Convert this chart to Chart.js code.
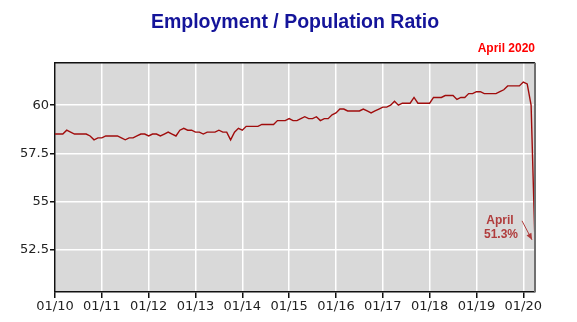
<!DOCTYPE html>
<html>
<head>
<meta charset="utf-8">
<script src="https://cdn.jsdelivr.net/npm/chart.js@4"></script>
<style>
  body { margin: 0; background: #fff; }
  #wrap { width: 577px; height: 322px; }
</style>
</head>
<body>
<div id="wrap"><canvas id="chart"></canvas></div>
<script>
"use strict"
// Employment / population ratio, monthly, Jan 2010 - Apr 2020
const startYear = 2010;
const ratio2010 = [58.5, 58.5, 58.5, 58.7, 58.6, 58.5, 58.5, 58.5, 58.5, 58.4, 58.2, 58.3];
const ratio2011 = [58.3, 58.4, 58.4, 58.4, 58.4, 58.3, 58.2, 58.3, 58.3, 58.4, 58.5, 58.5];
const ratio2012 = [58.4, 58.5, 58.5, 58.4, 58.5, 58.6, 58.5, 58.4, 58.7, 58.8, 58.7, 58.7];
const ratio2013 = [58.6, 58.6, 58.5, 58.6, 58.6, 58.6, 58.7, 58.6, 58.6, 58.2, 58.6, 58.8];
const ratio2014 = [58.7, 58.9, 58.9, 58.9, 58.9, 59.0, 59.0, 59.0, 59.0, 59.2, 59.2, 59.2];
const ratio2015 = [59.3, 59.2, 59.2, 59.3, 59.4, 59.3, 59.3, 59.4, 59.2, 59.3, 59.3, 59.5];
const ratio2016 = [59.6, 59.8, 59.8, 59.7, 59.7, 59.7, 59.7, 59.8, 59.7, 59.6, 59.7, 59.8];
const ratio2017 = [59.9, 59.9, 60.0, 60.2, 60.0, 60.1, 60.1, 60.1, 60.4, 60.1, 60.1, 60.1];
const ratio2018 = [60.1, 60.4, 60.4, 60.4, 60.5, 60.5, 60.5, 60.3, 60.4, 60.4, 60.6, 60.6];
const ratio2019 = [60.7, 60.7, 60.6, 60.6, 60.6, 60.6, 60.7, 60.8, 61.0, 61.0, 61.0, 61.0];
const ratio2020 = [61.2, 61.1, 60.0, 52.8];

const yTicks = [52.5, 55, 57.5, 60];
const annotationLines = ["April", "51.3%"];

const allValues = [].concat(ratio2010, ratio2011, ratio2012, ratio2013, ratio2014,
  ratio2015, ratio2016, ratio2017, ratio2018, ratio2019, ratio2020);
// x = months since Jan 2010
const points = allValues.map((v, i) => ({ x: i, y: v }));

// gray plot background + frame + April annotation
const plotDecor = {
  id: 'plotDecor',
  beforeDraw(chart) {
    const { ctx, chartArea: a } = chart;
    ctx.save();
    ctx.fillStyle = '#d9d9d9';
    ctx.fillRect(a.left, a.top, a.right - a.left, a.bottom - a.top);
    ctx.restore();
  },
  afterDraw(chart) {
    const { ctx, chartArea: a, scales } = chart;
    ctx.save();
    // frame top + right
    ctx.strokeStyle = '#111';
    ctx.lineWidth = 1.5;
    ctx.beginPath();
    ctx.moveTo(a.left, a.top);
    ctx.lineTo(a.right, a.top);
    ctx.stroke();
    ctx.strokeStyle = '#707070';
    ctx.lineWidth = 2;
    ctx.beginPath();
    ctx.moveTo(a.right, a.top);
    ctx.lineTo(a.right, a.bottom);
    ctx.stroke();

    // annotation for last point
    const last = points[points.length - 1];
    const px = scales.x.getPixelForValue(last.x);
    const py = scales.y.getPixelForValue(last.y);
    ctx.fillStyle = '#b03c3c';
    ctx.strokeStyle = '#b03c3c';
    ctx.font = 'bold 12px "Liberation Sans", Arial, sans-serif';
    ctx.textAlign = 'center';
    ctx.textBaseline = 'middle';
    ctx.fillText(annotationLines[0], px - 35, py - 23);
    ctx.fillText(annotationLines[1], px - 34, py - 9);
    // arrow
    const x0 = px - 13, y0 = py - 23, x1 = px - 3, y1 = py - 4;
    ctx.lineWidth = 1;
    ctx.beginPath();
    ctx.moveTo(x0, y0);
    ctx.lineTo(x1, y1);
    ctx.stroke();
    const ang = Math.atan2(y1 - y0, x1 - x0);
    ctx.beginPath();
    ctx.moveTo(x1, y1);
    ctx.lineTo(x1 - 7 * Math.cos(ang - 0.4), y1 - 7 * Math.sin(ang - 0.4));
    ctx.lineTo(x1 - 7 * Math.cos(ang + 0.4), y1 - 7 * Math.sin(ang + 0.4));
    ctx.closePath();
    ctx.fill();
    ctx.restore();
  }
};

const tickFont = { family: '"DejaVu Sans", Verdana, sans-serif', size: 13 };

new Chart(document.getElementById('chart'), {
  type: 'line',
  data: {
    datasets: [{
      label: 'Employment / Population Ratio',
      data: points,
      borderColor: '#a00c0c',
      borderWidth: 1.4,
      pointRadius: 0,
      tension: 0
    }]
  },
  options: {
    responsive: true,
    maintainAspectRatio: false,
    animation: false,
    layout: { padding: { top: 1, right: 42, bottom: 0, left: 0 } },
    plugins: {
      legend: { display: false },
      tooltip: { enabled: false },
      title: {
        display: true,
        fullSize: false,
        text: 'Employment / Population Ratio',
        color: '#14149a',
        font: { family: '"Liberation Sans", Arial, sans-serif', size: 19.5, weight: 'bold' },
        padding: { top: 10, bottom: 4 }
      },
      subtitle: {
        display: true,
        text: 'April 2020',
        align: 'end',
        color: '#ff0000',
        font: { family: '"Liberation Sans", Arial, sans-serif', size: 12, weight: 'bold' },
        padding: { top: 3, bottom: 7, right: 2 }
      }
    },
    scales: {
      x: {
        type: 'linear',
        min: 0,
        max: allValues.length - 1,
        afterFit(scale) { scale.height = 30; },
        ticks: {
          stepSize: 12,
          includeBounds: false,
          autoSkip: false,
          maxRotation: 0,
          padding: 1,
          color: '#222',
          font: tickFont,
          callback: (v) => '01/' + String((startYear + v / 12) % 100).padStart(2, '0')
        },
        grid: { color: '#ffffff', lineWidth: 1.5, tickColor: '#111', tickLength: 6 },
        border: { color: '#111', width: 1.5 }
      },
      y: {
        min: 50.3,
        max: 62.2,
        afterFit(scale) { scale.width = 55; },
        afterBuildTicks(scale) { scale.ticks = yTicks.map(v => ({ value: v })); },
        ticks: {
          padding: 1,
          color: '#222',
          font: tickFont,
          callback: (v) => String(v)
        },
        grid: { color: '#ffffff', lineWidth: 1.5, tickColor: '#111', tickLength: 5 },
        border: { color: '#111', width: 1.5 }
      }
    }
  },
  plugins: [plotDecor]
});
</script>
</body>
</html>
